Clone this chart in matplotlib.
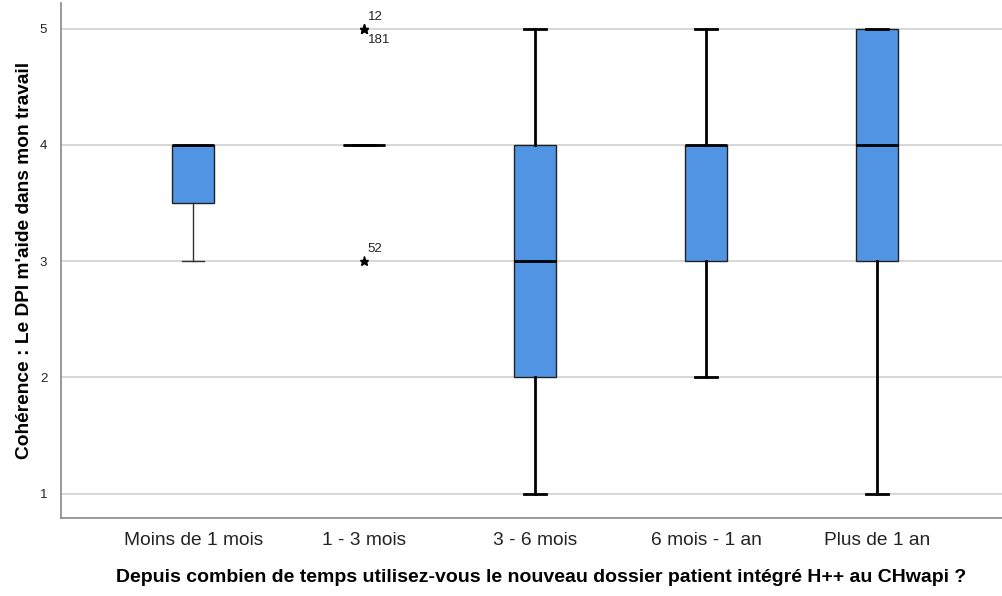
import matplotlib.pyplot as plt

plt.rcParams['font.family'] = ['Liberation Sans', 'DejaVu Sans']

categories = ['Moins de 1 mois', '1 - 3 mois', '3 - 6 mois', '6 mois - 1 an', 'Plus de 1 an']
q1 = [3.5, 4, 2, 3, 3]
med = [4, 4, 3, 4, 4]
q3 = [4, 4, 4, 4, 5]
whislo = [3, 4, 1, 2, 1]
whishi = [4, 4, 5, 5, 5]
fliers = [[], [5, 5, 3], [], [], []]
flier_labels = [[], [('12', 'above'), ('181', 'below'), ('52', 'above')], [], [], []]

stats = []
for i in range(len(categories)):
    stats.append(dict(q1=q1[i], med=med[i], q3=q3[i], whislo=whislo[i],
                      whishi=whishi[i], fliers=fliers[i], label=categories[i]))

fig = plt.figure(figsize=(10.02, 5.96), dpi=100)
ax = fig.add_axes([0.061, 0.131, 0.939, 0.864])

ax.yaxis.grid(True, color='#d4d4d4', lw=1.3, zorder=0)
ax.set_axisbelow(True)

pos = list(range(len(categories)))
bp = ax.bxp(stats, positions=pos, widths=0.245, patch_artist=True,
            showfliers=False, capwidths=0.125,
            boxprops=dict(facecolor='#5094e3', edgecolor='#222222', lw=1.0),
            medianprops=dict(color='black', lw=2.0),
            whiskerprops=dict(color='black', lw=2.0),
            capprops=dict(color='black', lw=2.0))

# first group drawn with thinner lines
for art in [bp['whiskers'][0], bp['whiskers'][1], bp['caps'][0], bp['caps'][1]]:
    art.set_linewidth(1.0)
    art.set_color('#333333')

for i, fl in enumerate(fliers):
    for j, v in enumerate(fl):
        ax.plot(pos[i], v, marker='*', color='black', ms=6.5, ls='none', zorder=5)
        lab, where = flier_labels[i][j]
        dy = 0.1 if where == 'above' else -0.1
        ax.text(pos[i] + 0.02, v + dy, lab, fontsize=9.5, color='#222222',
                va='center', ha='left')

ax.set_xlim(-0.772, 4.73)
ax.set_ylim(0.79, 5.22)
ax.set_yticks([1, 2, 3, 4, 5])
ax.set_xticks(pos)
ax.set_xticklabels(categories, fontsize=13.8, color='#222222')
ax.tick_params(axis='y', length=0, pad=10, labelsize=9.5, labelcolor='#222222')
ax.tick_params(axis='x', length=0, pad=10)

for s in ['top', 'right']:
    ax.spines[s].set_visible(False)
for s in ['left', 'bottom']:
    ax.spines[s].set_color('#888888')
    ax.spines[s].set_linewidth(1.2)

ax.set_ylabel("Cohérence : Le DPI m'aide dans mon travail", fontsize=13.8,
              fontweight='bold', labelpad=5)
ax.set_xlabel("Depuis combien de temps utilisez-vous le nouveau dossier patient intégré H++ au CHwapi ?",
              fontsize=14.0, fontweight='bold')
ax.xaxis.set_label_coords(0.51, -0.1)

fig.savefig('out.png', dpi=100)
